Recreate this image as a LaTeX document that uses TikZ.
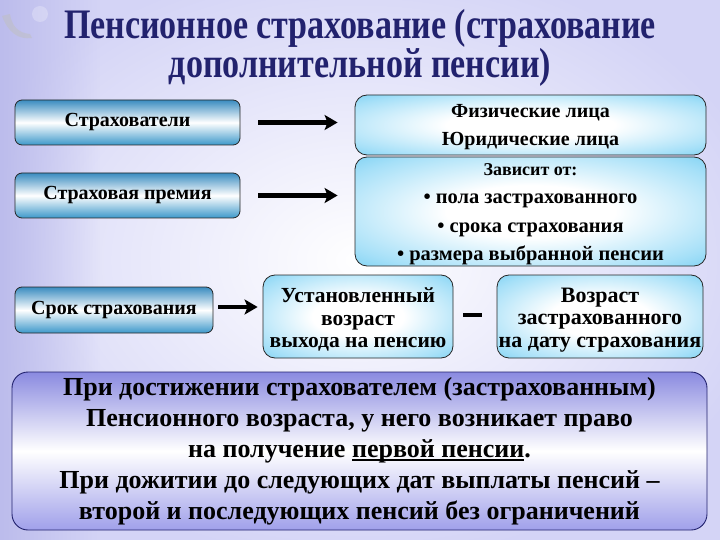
\documentclass[tikz,border=0pt]{standalone}
\usepackage{fontspec}
\setmainfont{Liberation Serif}
\newfontfamily\titlefont[FakeStretch=0.81]{Liberation Serif}
\usetikzlibrary{arrows.meta,fadings}
\definecolor{bgl}{HTML}{D4D4F6}
\definecolor{bgleft}{HTML}{BCBCEC}
\definecolor{navy}{HTML}{22226E}
\definecolor{tealtop}{HTML}{3A8CC0}
\definecolor{tealbot}{HTML}{3C98CA}
\definecolor{cyanedge}{HTML}{48BEEC}
\definecolor{cyanmid}{HTML}{A6E0F8}
\definecolor{peri}{HTML}{8A8AE0}
\definecolor{perib}{HTML}{A0A0EA}
\pgfdeclareradialshading{cyanrad}{\pgfpoint{0bp}{0bp}}{%
  color(0bp)=(white); color(12bp)=(white); color(30bp)=(cyanmid); color(46bp)=(cyanedge); color(70bp)=(cyanedge)}
\newcommand\myul[1]{\setbox0\hbox{#1}\rlap{\rule[-3.5pt]{\wd0}{1.3pt}}\box0}
\tikzset{
  leftbox/.style={draw=black!85, line width=0.8pt, rounded corners=7pt,
    top color=tealtop, bottom color=tealbot, middle color=white,
    font=\bfseries\fontsize{20}{22}\selectfont, inner sep=0pt},
  cyanbox/.style={draw=black!85, line width=0.8pt, rounded corners=12pt,
    shading=cyanrad, font=\bfseries\fontsize{20}{28.5}\selectfont, align=center, inner sep=0pt},
  bigbox/.style={draw=navy, line width=0.9pt, rounded corners=16pt,
    top color=peri, bottom color=perib, middle color=white,
    font=\bfseries\fontsize{26}{31}\selectfont, align=center, inner sep=0pt},
  bigarrow/.style={line width=4.5pt, -{Stealth[length=13pt,width=15pt,inset=3pt]}},
}
\begin{document}
\begin{tikzpicture}[x=1pt,y=-1pt]
\useasboundingbox (0,0) rectangle (720,540);
% background
\fill[bgl] (0,0) rectangle (720,540);
\shade[inner color=white, outer color=bgl] (-60,-40) rectangle (780,560);
\shade[left color=bgleft, right color=bgleft, path fading=east] (0,0) rectangle (100,540);
% faint logo
\fill[black!25, opacity=0.5] (2,16) .. controls (8,32) and (18,40) .. (32,38)
  -- (30,34) .. controls (18,33) and (12,26) .. (10,14) -- cycle;
\fill[white, opacity=0.25] (40,14) circle (8);
% title
\node[font=\titlefont\bfseries\fontsize{42}{37}\selectfont, align=center, text=navy]
  (title) at (360,48) {Пенсионное страхование (страхование\\дополнительной пенсии)};
% boxes
\node[leftbox, minimum width=225pt, minimum height=45pt] (s1) at (127.5,122.5) {Страхователи};
\node[leftbox, minimum width=225pt, minimum height=45pt] (s2) at (127.5,195.5) {Страховая премия};
\node[leftbox, minimum width=198pt, minimum height=46pt] (s3) at (114,310) {Срок страхования};
\node[cyanbox, minimum width=351pt, minimum height=60pt] (r1) at (530.5,125)
  {\rule{0pt}{17pt}Физические лица\\Юридические лица};
\node[cyanbox, font=\bfseries\fontsize{20.5}{28.5}\selectfont, minimum width=351pt, minimum height=109pt] (r2) at (530.5,211.5)
  {{\fontsize{18}{28.5}\selectfont\rule{0pt}{17pt}Зависит от:}\\• пола застрахованного\\• срока страхования\\• размера выбранной пенсии};
\node[cyanbox, font=\bfseries\fontsize{21.5}{22.5}\selectfont, minimum width=190pt, minimum height=83pt] (u) at (358,316.5)
  {\rule{0pt}{21pt}Установленный\\возраст\\выхода на пенсию};
\node[cyanbox, font=\bfseries\fontsize{22}{22.5}\selectfont, minimum width=206pt, minimum height=83pt] (v) at (600,316.5)
  {\rule{0pt}{21pt}Возраст\\застрахованного\\на дату страхования};
\node[bigbox, minimum width=695pt, minimum height=158pt] (b) at (359.5,451)
  {При достижении страхователем (застрахованным)\\Пенсионного возраста, у него возникает право\\на получение \myul{первой пенсии}.\\При дожитии до следующих дат выплаты пенсий –\\второй и последующих пенсий без ограничений};
% connectors
\draw[bigarrow, shorten <=18pt, shorten >=17pt] (s1.east) -- (s1.east -| r1.west);
\draw[bigarrow, shorten <=18pt, shorten >=17pt] (s2.east) -- (s2.east -| r2.west);
\draw[bigarrow, shorten <=5pt, shorten >=5pt] ([yshift=3pt]s3.east) -- ([yshift=3pt]s3.east -| u.west);
\draw[line width=4pt, shorten <=10pt, shorten >=15pt] ([yshift=1.5pt]u.east) -- ([yshift=1.5pt]u.east -| v.west);
\end{tikzpicture}
\end{document}
